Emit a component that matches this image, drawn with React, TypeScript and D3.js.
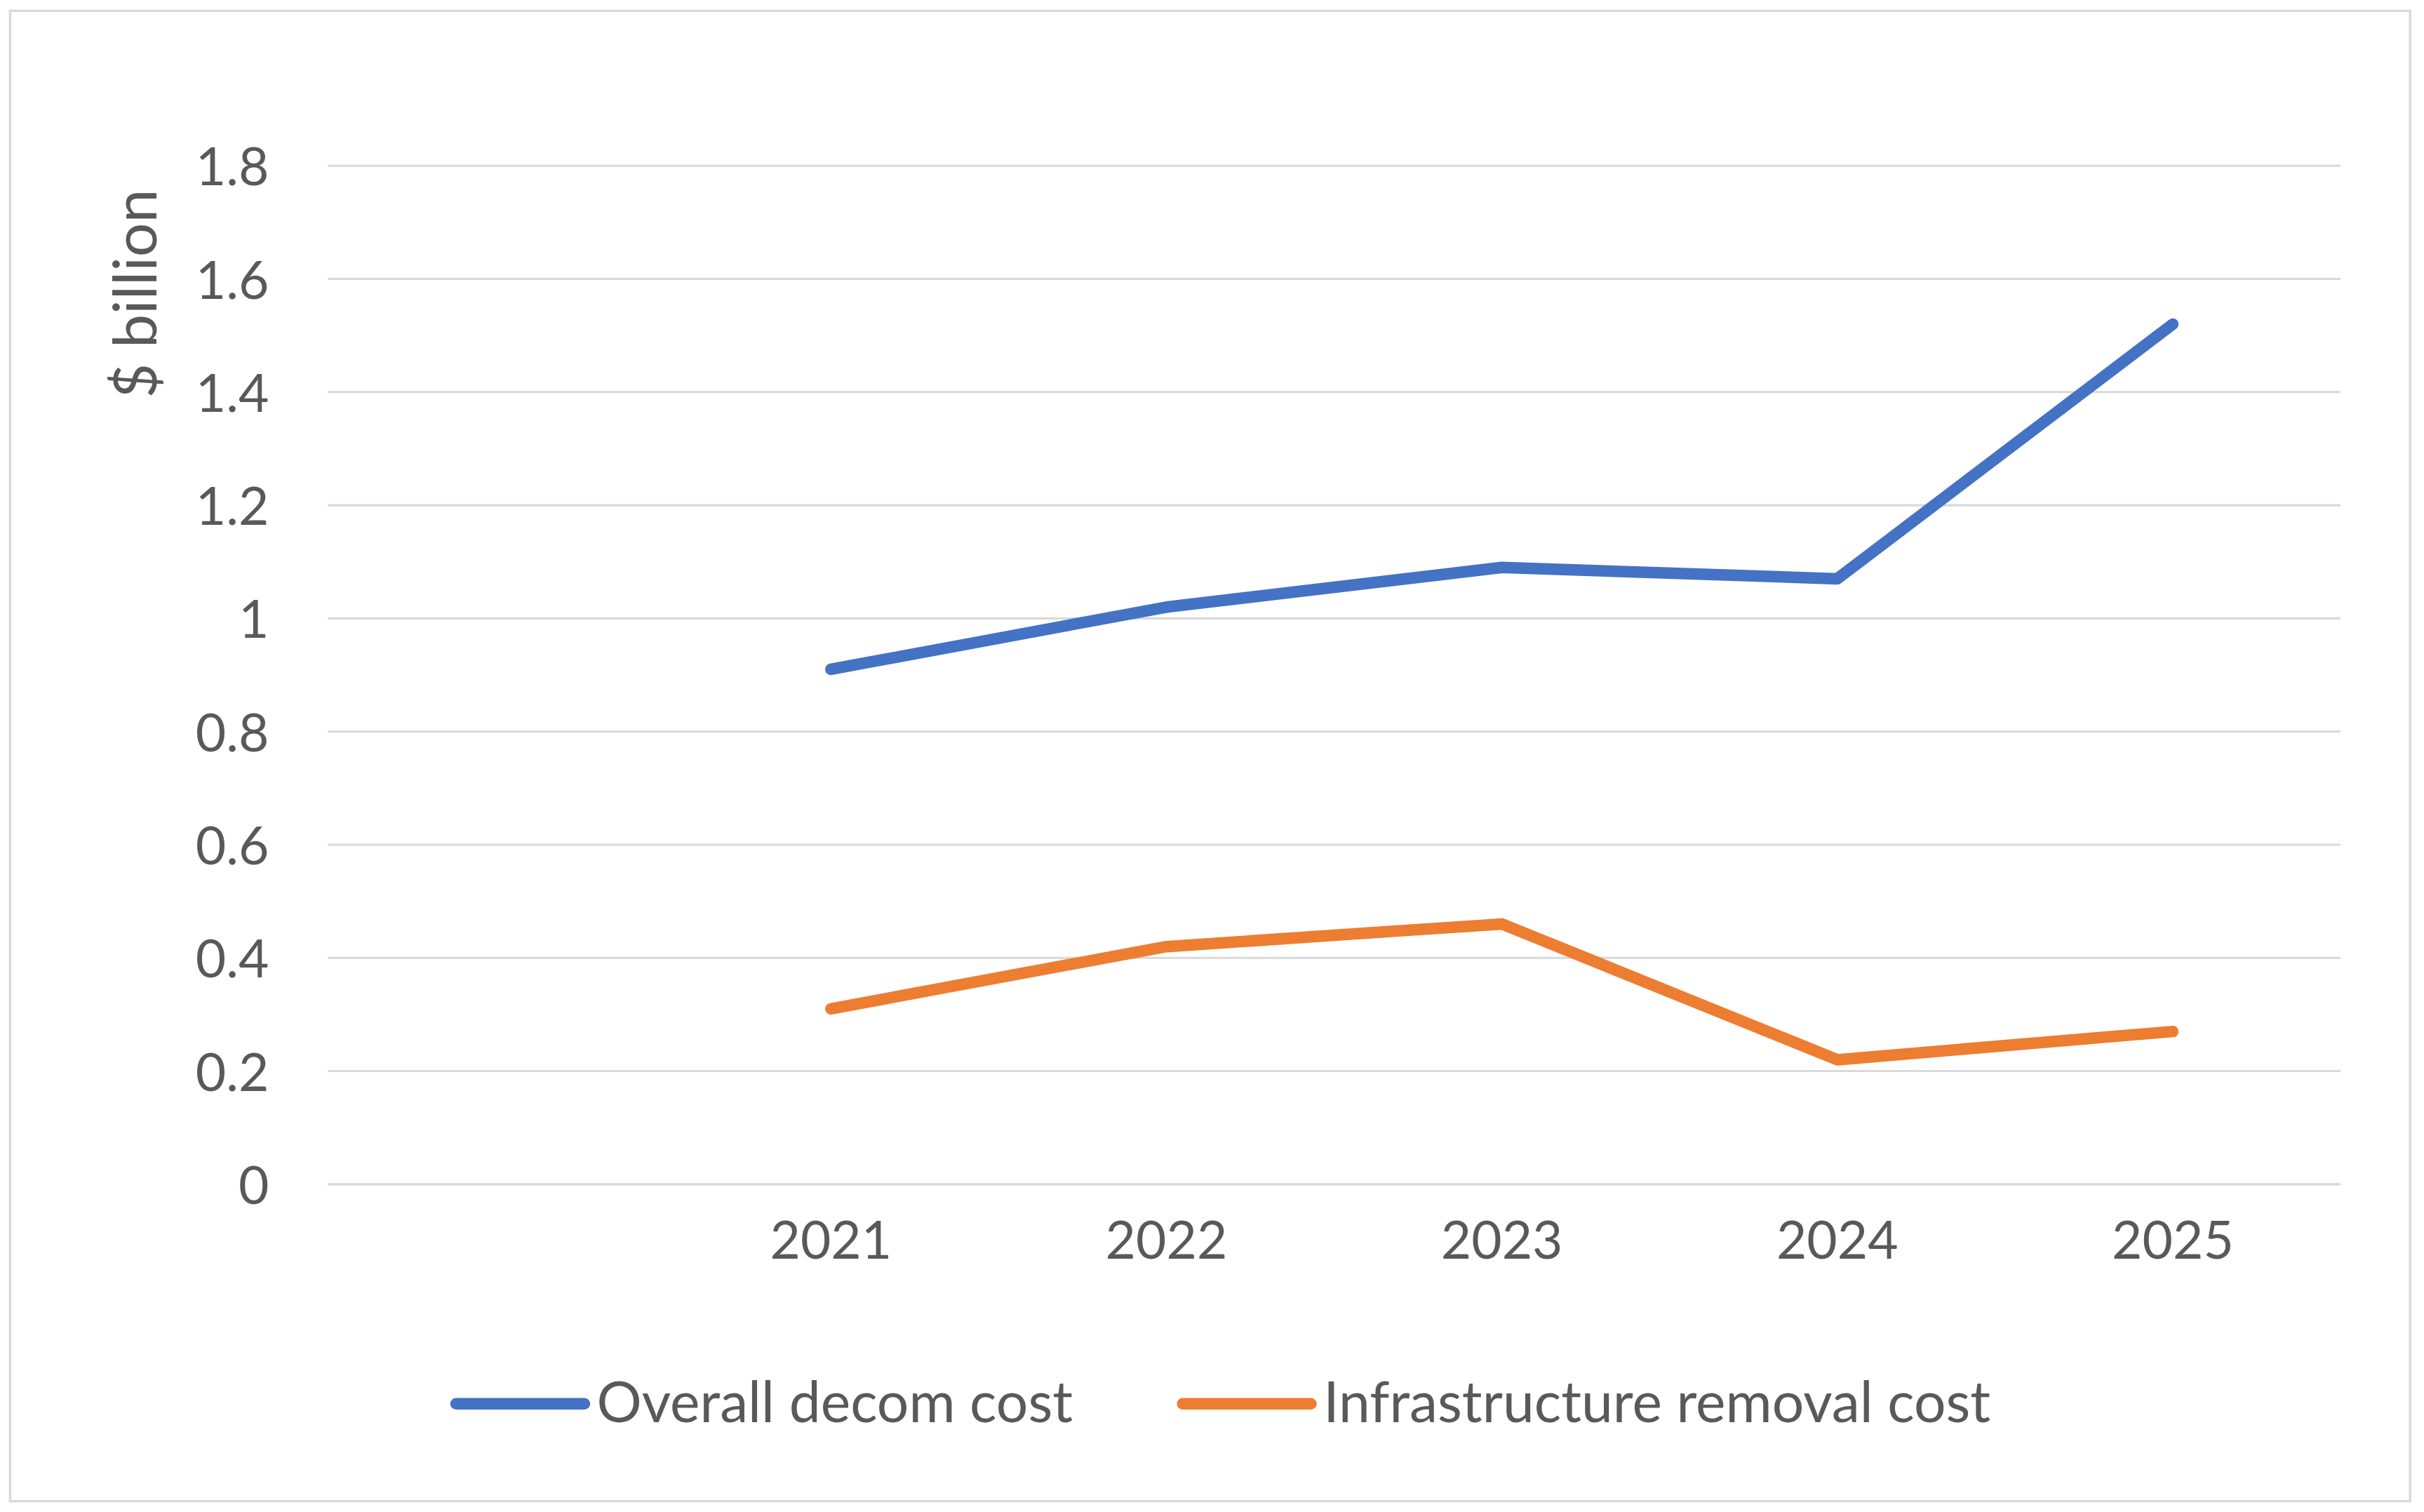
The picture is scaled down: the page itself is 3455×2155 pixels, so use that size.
import { useRef, useEffect } from 'react';
import * as d3 from 'd3';

// categories (first slot is an empty category in the source chart)
const categories = ['', '2021', '2022', '2023', '2024', '2025'];
const overallDecomCost: (number | null)[] = [null, 0.91, 1.02, 1.09, 1.07, 1.52];
const infrastructureRemovalCost: (number | null)[] = [null, 0.31, 0.42, 0.46, 0.22, 0.27];
const yTicks = [0, 0.2, 0.4, 0.6, 0.8, 1, 1.2, 1.4, 1.6, 1.8];
const seriesNames = ['Overall decom cost', 'Infrastructure removal cost'];

const W = 1568;
const H = 978;
const FONT = 'Lato, "Open Sans", sans-serif';
const TEXT = '#595959';
const COLORS = ['#4472C4', '#ED7D31'];

const App = () => {
  const svgRef = useRef<SVGSVGElement | null>(null);

  useEffect(() => {
    const svg = d3.select(svgRef.current);
    svg.selectAll('*').remove();

    svg
      .append('rect')
      .attr('x', 6.5)
      .attr('y', 7)
      .attr('width', 1552.5)
      .attr('height', 964)
      .attr('fill', '#fff')
      .attr('stroke', '#d9d9d9')
      .attr('stroke-width', 1.5);

    const x = d3.scaleBand<string>().domain(categories).range([212, 1514]);
    const y = d3.scaleLinear().domain([0, 1.8]).range([766, 107.2]);

    // gridlines
    svg
      .append('g')
      .selectAll('line')
      .data(yTicks)
      .join('line')
      .attr('x1', 212)
      .attr('x2', 1514)
      .attr('y1', d => y(d))
      .attr('y2', d => y(d))
      .attr('stroke', '#d9d9d9')
      .attr('stroke-width', 1.4);

    // y axis labels
    const yAxis = d3
      .axisLeft(y)
      .tickValues(yTicks)
      .tickSize(0)
      .tickPadding(0)
      .tickFormat(d => d3.format('')(d as number));
    const gy = svg.append('g').attr('transform', 'translate(174,0)').call(yAxis);
    gy.select('.domain').remove();
    gy.selectAll('text')
      .attr('font-family', FONT)
      .attr('font-size', 34)
      .attr('fill', TEXT)
      .attr('dy', '0.36em');

    // x axis labels
    const xAxis = d3.axisBottom(x).tickSize(0).tickPadding(0);
    const gx = svg.append('g').attr('transform', 'translate(0,790)').call(xAxis);
    gx.select('.domain').remove();
    gx.selectAll('text')
      .attr('font-family', FONT)
      .attr('font-size', 34)
      .attr('fill', TEXT)
      .attr('dy', '0.71em');

    // y title
    svg
      .append('text')
      .attr('transform', 'translate(101,190) rotate(-90)')
      .attr('text-anchor', 'middle')
      .attr('font-family', FONT)
      .attr('font-size', 39)
      .attr('fill', TEXT)
      .text('$ billion');

    const line = d3
      .line<number | null>()
      .defined(d => d != null)
      .x((_d, i) => (x(categories[i]) as number) + x.bandwidth() / 2)
      .y(d => y(d as number));

    [overallDecomCost, infrastructureRemovalCost].forEach((s, i) => {
      svg
        .append('path')
        .datum(s)
        .attr('d', line)
        .attr('fill', 'none')
        .attr('stroke', COLORS[i])
        .attr('stroke-width', 7.5)
        .attr('stroke-linecap', 'round')
        .attr('stroke-linejoin', 'round');
    });

    // legend
    const legendX = [295, 765];
    const lg = svg.append('g');
    seriesNames.forEach((name, i) => {
      lg.append('line')
        .attr('x1', legendX[i])
        .attr('x2', legendX[i] + 83)
        .attr('y1', 908)
        .attr('y2', 908)
        .attr('stroke', COLORS[i])
        .attr('stroke-width', 7.5)
        .attr('stroke-linecap', 'round');
      lg.append('text')
        .attr('x', legendX[i] + 91)
        .attr('y', 907)
        .attr('dy', '0.36em')
        .attr('font-family', FONT)
        .attr('font-size', 36.5)
        .attr('fill', TEXT)
        .text(name);
    });
  }, []);

  return (
    <svg
      ref={svgRef}
      width={3455}
      height={2155}
      viewBox={`0 0 ${W} ${H}`}
      style={{ position: 'absolute', left: 0, top: 0, display: 'block', background: '#fff' }}
    />
  );
};

export default App;
